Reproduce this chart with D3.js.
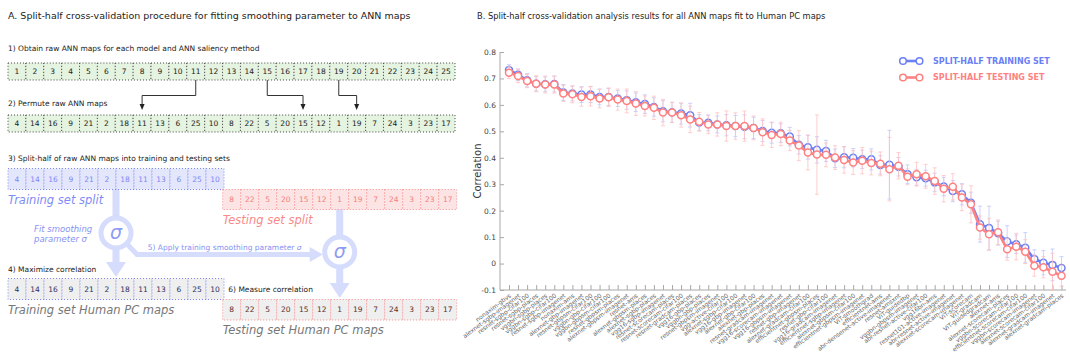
<!DOCTYPE html>
<html>
<head>
<meta charset="utf-8">
<script src="https://cdn.jsdelivr.net/npm/d3@7"></script>
<style>
  body { margin: 0; background: #fff; }
  svg { display: block; font-family: 'DejaVu Sans', sans-serif; }
</style>
</head>
<body>
<div id="fig"></div>
<script>
const WIDTH = 1070;
const HEIGHT = 360;

// ---- panel A: map numbers in each row
const rawMaps = [1, 2, 3, 4, 5, 6, 7, 8, 9, 10, 11, 12, 13, 14, 15, 16, 17, 18, 19, 20, 21, 22, 23, 24, 25];
const permutedMaps = [4, 14, 16, 9, 21, 2, 18, 11, 13, 6, 25, 10, 8, 22, 5, 20, 15, 12, 1, 19, 7, 24, 3, 23, 17];
const trainingMaps = [4, 14, 16, 9, 21, 2, 18, 11, 13, 6, 25, 10];
const testingMaps = [8, 22, 5, 20, 15, 12, 1, 19, 7, 24, 3, 23, 17];
const movedMaps = [11, 15, 19];

// ---- panel B: correlation per model / saliency method
const modelNames = [
  'nonaxim-gbvs', 'alexnet-sgbp-imagenet', 'resnet-sgbp-cifar100', 'resnet-sgbp-places',
  'vggbn-sgbp-places', 'vggbn-sgbp-cifar100', 'resnet-sgbp-imagenet', 'nonaxim-ams',
  'alexnet-gbp-imagenet', 'resnet-gbpsm-cifar100', 'vggbn-gbp-cifar100', 'vggbn-gbpsm-cifar100',
  'resnet-gbpsm-places', 'alexnet-gbpsm-imagenet', 'resnet-ams', 'alexnet-gbpsm-places',
  'alexnet-sgbp-places', 'vgg16-sgbp-imagenet', 'resnet-scorecam-places', 'resnet-scorecam-cifar100',
  'resnet-gradcam-places', 'vgg16-gbp-places', 'vggbn-gbp-places', 'resnet-gbpsm-imagenet',
  'vgg-active-cifar100', 'alexnet-sgbp-cifar100', 'vgg16-gbp-imagenet', 'alexnet-gbp-cifar100',
  'alexnet-gbp-places', 'resnet-gradcam-imagenet', 'vgg16-scorecam-imagenet', 'vgg16-gbpsm-imagenet',
  'resnet-gbp-imagenet', 'alexnet-gradcam-cifar100', 'efficientnet-gbpsm-places', 'resnet-gbp-cifar100',
  'vgg16-gradcam-imagenet', 'efficientnet-sgbp-imagenet', 'alexnet-gbpsm-cifar100', 'efficientnet-gbpsm-imagenet',
  'ViT-smoothgrad', 'efficientnet-ams', 'abr-densenet-active-imagenet', 'resnet-amsxnt',
  'ViT-guidedbp', 'vggbn-gbpsm-imagenet', 'abr-resnet-active-cifar100', 'vgg16bn-ams',
  'resnet101-active-imagenet', 'abr-resnet-active-imagenet', 'alexnet-scorecam-imagenet', 'ViT-scorecam',
  'ViT-gradcam', 'ViT-guidedgradcam', 'alexnet-ams', 'alexnet-scorecam-places',
  'vggbn-scorecam-cifar100', 'efficientnet-scorecam-cifar100', 'vggbn-scorecam-imagenet', 'alexnet-scorecam-cifar100',
  'alexnet-gradcam-imagenet', 'alexnet-gradcam-places'
];
const trainCorr = [
  0.732, 0.714, 0.693, 0.680, 0.678, 0.679, 0.647, 0.643, 0.639, 0.639,
  0.630, 0.630, 0.624, 0.618, 0.610, 0.603, 0.592, 0.576, 0.572, 0.567,
  0.561, 0.533, 0.532, 0.526, 0.523, 0.520, 0.517, 0.513, 0.501, 0.495,
  0.493, 0.480, 0.449, 0.440, 0.430, 0.426, 0.398, 0.402, 0.400, 0.394,
  0.394, 0.373, 0.374, 0.366, 0.338, 0.326, 0.323, 0.307, 0.291, 0.274,
  0.262, 0.230, 0.149, 0.134, 0.115, 0.083, 0.073, 0.060, 0.017, 0.003,
  -0.005, -0.017
];
const testCorr = [
  0.722, 0.709, 0.690, 0.680, 0.677, 0.677, 0.643, 0.640, 0.630, 0.633,
  0.624, 0.629, 0.620, 0.615, 0.605, 0.596, 0.589, 0.571, 0.571, 0.561,
  0.545, 0.536, 0.526, 0.526, 0.520, 0.520, 0.520, 0.513, 0.497, 0.486,
  0.490, 0.465, 0.446, 0.420, 0.412, 0.411, 0.401, 0.392, 0.382, 0.389,
  0.380, 0.377, 0.357, 0.370, 0.328, 0.338, 0.330, 0.312, 0.283, 0.290,
  0.250, 0.224, 0.136, 0.111, 0.118, 0.054, 0.064, 0.045, -0.008, -0.014,
  -0.031, -0.046
];
const trainErr = [
  0.02, 0.022, 0.025, 0.028, 0.028, 0.03, 0.03, 0.028, 0.03, 0.03,
  0.03, 0.032, 0.03, 0.035, 0.035, 0.035, 0.035, 0.04, 0.038, 0.04,
  0.045, 0.03, 0.03, 0.032, 0.04, 0.04, 0.045, 0.04, 0.04, 0.04,
  0.035, 0.035, 0.035, 0.045, 0.05, 0.04, 0.035, 0.04, 0.035, 0.035,
  0.04, 0.035, 0.13, 0.035, 0.035, 0.03, 0.03, 0.035, 0.035, 0.04,
  0.04, 0.04, 0.068, 0.083, 0.045, 0.06, 0.035, 0.057, 0.035, 0.046,
  0.06, 0.043
];
const testErr = [
  0.022, 0.025, 0.025, 0.03, 0.032, 0.032, 0.03, 0.032, 0.035, 0.037,
  0.035, 0.035, 0.04, 0.045, 0.045, 0.038, 0.044, 0.05, 0.038, 0.045,
  0.05, 0.035, 0.035, 0.044, 0.057, 0.05, 0.057, 0.045, 0.05, 0.047,
  0.044, 0.038, 0.057, 0.066, 0.15, 0.045, 0.045, 0.05, 0.045, 0.05,
  0.045, 0.045, 0.12, 0.05, 0.03, 0.045, 0.045, 0.05, 0.05, 0.05,
  0.05, 0.07, 0.044, 0.06, 0.047, 0.041, 0.05, 0.045, 0.04, 0.04,
  0.07, 0.04
];
const yTicks = [-0.1, 0, 0.1, 0.2, 0.3, 0.4, 0.5, 0.6, 0.7, 0.8];
const seriesNames = ['SPLIT-HALF TRAINING SET', 'SPLIT-HALF TESTING SET'];

const BLUE = '#6b7ff6';
const RED = '#ff8282';
const PALEBLUE = '#d5dcfc';
const SIGMA = '#8f9bf2';

const svg = d3.select('#fig').append('svg')
  .attr('width', WIDTH)
  .attr('height', HEIGHT);

svg.append('rect').attr('width', WIDTH).attr('height', HEIGHT).attr('fill', '#fff');

// ================= panel A =================
const panelA = svg.append('g').attr('class', 'panelA');

panelA.append('text')
  .attr('x', 8).attr('y', 19)
  .attr('font-size', 9.5).attr('fill', '#222')
  .text('A. Split-half cross-validation procedure for fitting smoothing parameter to ANN maps');

function drawRow(values, box, style) {
  const band = d3.scaleBand().domain(values).range([box.x0, box.x1]);
  const row = panelA.append('g').attr('class', 'row');
  row.selectAll('rect')
    .data(values).enter()
    .append('rect')
    .attr('x', d => band(d))
    .attr('y', box.y0)
    .attr('width', band.bandwidth())
    .attr('height', box.y1 - box.y0)
    .attr('fill', style.fill)
    .attr('stroke', style.stroke)
    .attr('stroke-width', 1)
    .attr('stroke-dasharray', '1,2');
  row.selectAll('text')
    .data(values).enter()
    .append('text')
    .attr('x', d => band(d) + band.bandwidth() / 2)
    .attr('y', (box.y0 + box.y1) / 2)
    .attr('dy', '0.36em')
    .attr('text-anchor', 'middle')
    .attr('font-size', 7.5)
    .attr('fill', style.text)
    .text(d => d);
  return band;
}

function stepLabel(x, y, txt) {
  panelA.append('text')
    .attr('x', x).attr('y', y)
    .attr('font-size', 7.5).attr('fill', '#222')
    .text(txt);
}

function bigLabel(x, y, txt, color) {
  panelA.append('text')
    .attr('x', x).attr('y', y)
    .attr('font-size', 11.5).attr('font-style', 'italic')
    .attr('fill', color)
    .text(txt);
}

stepLabel(8, 50.5, '1) Obtain raw ANN maps for each model and ANN saliency method');
const rawBand = drawRow(rawMaps, { x0: 8, x1: 455, y0: 63, y1: 80 },
  { fill: '#e5f3e1', stroke: '#444', text: '#222' });

stepLabel(8, 106, '2) Permute raw ANN maps');
const permBand = drawRow(permutedMaps, { x0: 8, x1: 455, y0: 115, y1: 132 },
  { fill: '#e5f3e1', stroke: '#444', text: '#222' });

// arrows showing where a few raw maps go after permutation
panelA.selectAll('path.move')
  .data(movedMaps).enter()
  .append('path')
  .attr('class', 'move')
  .attr('fill', 'none')
  .attr('stroke', '#333')
  .attr('stroke-width', 1)
  .attr('d', d => {
    const xa = rawBand(d) + rawBand.bandwidth() / 2;
    const xb = permBand(d) + permBand.bandwidth() / 2;
    return `M${xa},80 V95.5 H${xb} V104`;
  });
panelA.selectAll('path.tip')
  .data(movedMaps).enter()
  .append('path')
  .attr('class', 'tip')
  .attr('fill', '#222')
  .attr('d', d => {
    const xb = permBand(d) + permBand.bandwidth() / 2;
    return `M${xb - 2.5},104 H${xb + 2.5} L${xb},110 Z`;
  });

stepLabel(8, 161, '3) Split-half of raw ANN maps into training and testing sets');

// pale blue flow shapes (drawn first, rows sit on top)
const flow = panelA.append('g').attr('class', 'flow');
const trainBandX = 8 + 6 * 18;
const testBandX = 222.7 + 6.5 * 18;
const c1 = { x: trainBandX, y: 233 };
const c2 = { x: testBandX, y: 252 };

flow.append('rect').attr('x', c1.x - 3.5).attr('y', 189).attr('width', 7).attr('height', c1.y - 17 - 189)
  .attr('fill', PALEBLUE);
flow.append('rect').attr('x', c1.x - 3.5).attr('y', c1.y + 16).attr('width', 7).attr('height', 14)
  .attr('fill', PALEBLUE);
flow.append('path').attr('d', `M${c1.x - 10},${262} H${c1.x + 10} L${c1.x},${277} Z`).attr('fill', PALEBLUE);
flow.append('path')
  .attr('d', `M${c1.x + 11},${c1.y + 11} L${c1.x + 21},${254.5} H${c2.x - 28}`)
  .attr('fill', 'none').attr('stroke', PALEBLUE).attr('stroke-width', 5);
flow.append('path').attr('d', `M${c2.x - 30},247 V262 L${c2.x - 17},254.5 Z`).attr('fill', PALEBLUE);
flow.append('rect').attr('x', c2.x - 3.5).attr('y', 209).attr('width', 7).attr('height', c2.y - 17 - 209)
  .attr('fill', PALEBLUE);
flow.append('rect').attr('x', c2.x - 3.5).attr('y', c2.y + 16).attr('width', 7).attr('height', 16)
  .attr('fill', PALEBLUE);
flow.append('path').attr('d', `M${c2.x - 10},${283} H${c2.x + 10} L${c2.x},${298} Z`).attr('fill', PALEBLUE);

[c1, c2].forEach(c => {
  flow.append('circle')
    .attr('cx', c.x).attr('cy', c.y).attr('r', 15)
    .attr('fill', '#fff').attr('stroke', PALEBLUE).attr('stroke-width', 5);
  flow.append('text')
    .attr('x', c.x).attr('y', c.y).attr('dy', '0.3em')
    .attr('text-anchor', 'middle')
    .attr('font-size', 19).attr('font-style', 'italic')
    .attr('fill', SIGMA)
    .text('σ');
});

drawRow(trainingMaps, { x0: 8, x1: 224, y0: 168.5, y1: 189.5 },
  { fill: '#e4e7fc', stroke: '#7d88f2', text: '#7d88f2' });
drawRow(testingMaps, { x0: 222.7, x1: 456.7, y0: 189.5, y1: 209.5 },
  { fill: '#fde4e4', stroke: '#f58a8a', text: '#f07f7f' });

bigLabel(8, 204, 'Training set split', '#7f8cf5');
bigLabel(222.7, 224, 'Testing set split', '#f88a8a');

panelA.append('text').attr('x', 34).attr('y', 232)
  .attr('font-size', 8.5).attr('font-style', 'italic').attr('fill', '#8792f2')
  .text('Fit smoothing');
panelA.append('text').attr('x', 34).attr('y', 241.5)
  .attr('font-size', 8.5).attr('font-style', 'italic').attr('fill', '#8792f2')
  .text('parameter σ');

panelA.append('text').attr('x', 147.7).attr('y', 249.5)
  .attr('font-size', 7.5).attr('fill', '#8792f2')
  .text('5) Apply training smoothing parameter ')
  .append('tspan').attr('font-style', 'italic').text('σ');

stepLabel(8, 272, '4) Maximize correlation');
drawRow(trainingMaps, { x0: 8, x1: 224, y0: 278.5, y1: 299.5 },
  { fill: '#efefef', stroke: '#7d88f2', text: '#2e2e5c' });
stepLabel(228.3, 291.5, '6) Measure correlation');
drawRow(testingMaps, { x0: 222.7, x1: 456.7, y0: 299.5, y1: 320 },
  { fill: '#efefef', stroke: '#f58a8a', text: '#5c2e2e' });

bigLabel(8, 314, 'Training set Human PC maps', '#777');
bigLabel(222.7, 334, 'Testing set Human PC maps', '#777');

// ================= panel B =================
const panelB = svg.append('g').attr('class', 'panelB');

panelB.append('text')
  .attr('x', 477).attr('y', 19)
  .attr('font-size', 8.3).attr('fill', '#222')
  .text('B. Split-half cross-validation analysis results for all ANN maps fit to Human PC maps');

const plot = { left: 500, right: 1066, top: 52, bottom: 290 };

const x = d3.scaleLinear()
  .domain([0, modelNames.length - 1])
  .range([509, 1061.5]);
const y = d3.scaleLinear()
  .domain([-0.1, 0.8])
  .range([plot.bottom, plot.top]);

const AXISGRAY = '#a8a8a8';

const yAxis = panelB.append('g')
  .attr('transform', `translate(${plot.left},0)`)
  .call(d3.axisLeft(y)
    .tickValues(yTicks)
    .tickSizeInner(-4)
    .tickSizeOuter(0)
    .tickPadding(4)
    .tickFormat(d => String(+d.toFixed(1))));
yAxis.select('.domain').remove();
yAxis.selectAll('.tick line').attr('stroke', AXISGRAY);
yAxis.selectAll('.tick text')
  .attr('font-family', 'DejaVu Sans')
  .attr('font-size', 7.5)
  .attr('fill', '#444');

const xAxis = panelB.append('g')
  .attr('transform', `translate(0,${plot.bottom})`)
  .call(d3.axisBottom(x)
    .tickValues(d3.range(modelNames.length))
    .tickSizeInner(-5)
    .tickSizeOuter(0)
    .tickFormat(i => modelNames[i]));
xAxis.select('.domain').remove();
xAxis.selectAll('.tick line').attr('stroke', AXISGRAY);
xAxis.selectAll('.tick text')
  .attr('font-family', 'DejaVu Sans')
  .attr('font-size', 6)
  .attr('fill', '#666')
  .attr('text-anchor', 'end')
  .attr('dy', null)
  .attr('y', 0)
  .attr('transform', 'translate(2,6.5) rotate(-37)');

panelB.append('line')
  .attr('x1', plot.left).attr('x2', plot.left)
  .attr('y1', plot.top).attr('y2', plot.bottom)
  .attr('stroke', AXISGRAY);
panelB.append('line')
  .attr('x1', plot.left).attr('x2', plot.right)
  .attr('y1', plot.bottom).attr('y2', plot.bottom)
  .attr('stroke', AXISGRAY);

panelB.append('text')
  .attr('transform', `translate(481,${(plot.top + plot.bottom) / 2}) rotate(-90)`)
  .attr('text-anchor', 'middle')
  .attr('font-size', 10)
  .attr('fill', '#333')
  .text('Correlation');

const series = [
  { name: seriesNames[0], values: trainCorr, err: trainErr, color: BLUE, bar: '#bfc7fa' },
  { name: seriesNames[1], values: testCorr, err: testErr, color: RED, bar: '#ffc2c2' }
];

const line = d3.line()
  .x((d, i) => x(i))
  .y(d => y(d));

series.forEach(s => {
  const g = panelB.append('g').attr('class', 'series');
  const bars = g.selectAll('g.err')
    .data(s.values).enter()
    .append('g')
    .attr('class', 'err')
    .attr('stroke', s.bar)
    .attr('stroke-width', 0.8);
  bars.append('line')
    .attr('x1', (d, i) => x(i)).attr('x2', (d, i) => x(i))
    .attr('y1', (d, i) => y(d - s.err[i]))
    .attr('y2', (d, i) => y(d + s.err[i]));
  bars.append('line')
    .attr('x1', (d, i) => x(i) - 2).attr('x2', (d, i) => x(i) + 2)
    .attr('y1', (d, i) => y(d - s.err[i]))
    .attr('y2', (d, i) => y(d - s.err[i]));
  bars.append('line')
    .attr('x1', (d, i) => x(i) - 2).attr('x2', (d, i) => x(i) + 2)
    .attr('y1', (d, i) => y(d + s.err[i]))
    .attr('y2', (d, i) => y(d + s.err[i]));

  g.append('path')
    .datum(s.values)
    .attr('fill', 'none')
    .attr('stroke', s.color)
    .attr('stroke-width', 2.6)
    .attr('d', line);

  g.selectAll('circle')
    .data(s.values).enter()
    .append('circle')
    .attr('cx', (d, i) => x(i))
    .attr('cy', d => y(d))
    .attr('r', 3.5)
    .attr('fill', '#fff')
    .attr('stroke', s.color)
    .attr('stroke-width', 1.5);
});

// legend
const legend = panelB.append('g').attr('transform', 'translate(903,61)');
series.forEach((s, k) => {
  const row = legend.append('g').attr('transform', `translate(0,${k * 16.5})`);
  row.append('line').attr('x1', 0).attr('x2', 16.5)
    .attr('stroke', s.color).attr('stroke-width', 2.6);
  row.selectAll('circle').data([0, 16.5]).enter()
    .append('circle')
    .attr('cx', d => d).attr('r', 3.3)
    .attr('fill', '#fff').attr('stroke', s.color).attr('stroke-width', 1.5);
  row.append('text')
    .attr('x', 30).attr('dy', '0.36em')
    .attr('font-size', 8).attr('font-weight', 'bold')
    .attr('fill', s.color)
    .text(s.name);
});
</script>
</body>
</html>
